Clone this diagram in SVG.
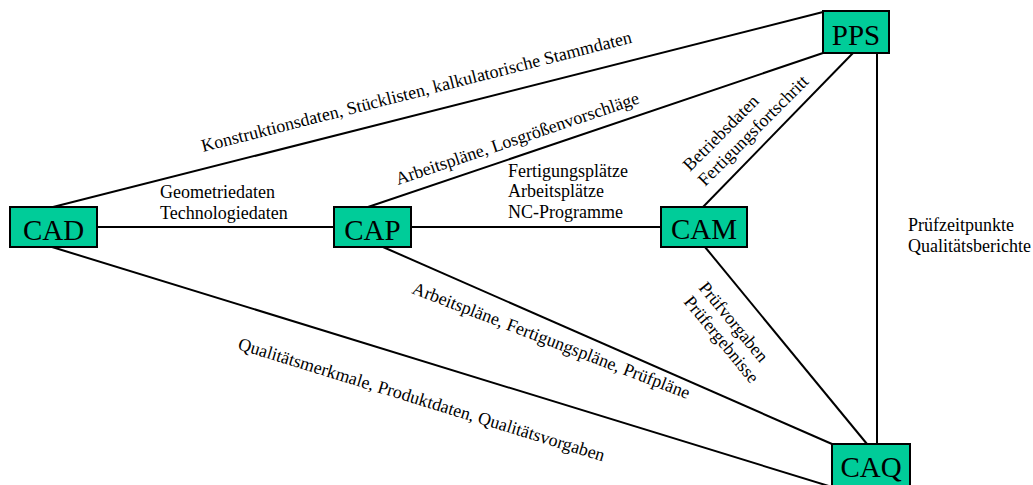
<svg xmlns="http://www.w3.org/2000/svg" width="1033" height="485" viewBox="0 0 1033 485">
  <style>
    .box { fill: #00CC99; stroke: #000; stroke-width: 2; }
    .name { font-family: 'Liberation Serif', 'Times New Roman', serif; font-size: 29px; fill: #000; text-anchor: middle; }
    .lbl { font-family: 'Liberation Serif', 'Times New Roman', serif; font-size: 18px; fill: #000; }
    .edge { stroke: #000; stroke-width: 2; fill: none; }
  </style>
  <rect width="1033" height="485" fill="#fff"/>

  <!-- connectors between the systems -->
  <g id="connectors">
    <line class="edge" x1="97" y1="227" x2="334" y2="227"/>
    <line class="edge" x1="411" y1="227" x2="661" y2="227"/>
    <line class="edge" x1="53" y1="207" x2="823" y2="12"/>
    <line class="edge" x1="368" y1="207" x2="823" y2="53"/>
    <line class="edge" x1="703" y1="207" x2="853" y2="53"/>
    <line class="edge" x1="877" y1="53" x2="877" y2="444"/>
    <line class="edge" x1="705" y1="247" x2="867" y2="444"/>
    <line class="edge" x1="383" y1="247" x2="832" y2="444"/>
    <line class="edge" x1="52" y1="247" x2="832" y2="487"/>
  </g>

  <!-- connector labels -->
  <g id="labels">
    <text class="lbl" x="160" y="198">Geometriedaten</text>
    <text class="lbl" x="160" y="219">Technologiedaten</text>
    <text class="lbl" x="508" y="177">Fertigungsplätze</text>
    <text class="lbl" x="508" y="197">Arbeitsplätze</text>
    <text class="lbl" x="508" y="218">NC-Programme</text>
    <text class="lbl" x="908" y="231">Prüfzeitpunkte</text>
    <text class="lbl" x="908" y="252">Qualitätsberichte</text>
    <text class="lbl" transform="translate(203 152) rotate(-14.3)">Konstruktionsdaten, Stücklisten, kalkulatorische Stammdaten</text>
    <text class="lbl" transform="translate(398 185) rotate(-18.7)">Arbeitspläne, Losgrößenvorschläge</text>
    <text class="lbl" transform="translate(690 172) rotate(-45)">Betriebsdaten</text>
    <text class="lbl" transform="translate(705 187) rotate(-45)">Fertigungsfortschritt</text>
    <text class="lbl" transform="translate(698 288) rotate(50.5)">Prüfvorgaben</text>
    <text class="lbl" transform="translate(683 302) rotate(50.5)">Prüfergebnisse</text>
    <text class="lbl" transform="translate(411 293) rotate(21)">Arbeitspläne, Fertigungspläne, Prüfpläne</text>
    <text class="lbl" transform="translate(237 349) rotate(17.1)">Qualitätsmerkmale, Produktdaten, Qualitätsvorgaben</text>
  </g>

  <!-- system nodes -->
  <g id="node-cad">
    <rect class="box" x="10" y="207" width="87" height="40"/>
    <text class="name" x="53.5" y="240">CAD</text>
  </g>
  <g id="node-cap">
    <rect class="box" x="334" y="207" width="77" height="40"/>
    <text class="name" x="372.5" y="240">CAP</text>
  </g>
  <g id="node-cam">
    <rect class="box" x="661" y="207" width="86" height="40"/>
    <text class="name" x="704" y="239">CAM</text>
  </g>
  <g id="node-pps">
    <rect class="box" x="823" y="11" width="66" height="42"/>
    <text class="name" x="856" y="45">PPS</text>
  </g>
  <g id="node-caq">
    <rect class="box" x="832" y="444" width="78" height="46"/>
    <text class="name" x="871" y="477">CAQ</text>
  </g>
</svg>
